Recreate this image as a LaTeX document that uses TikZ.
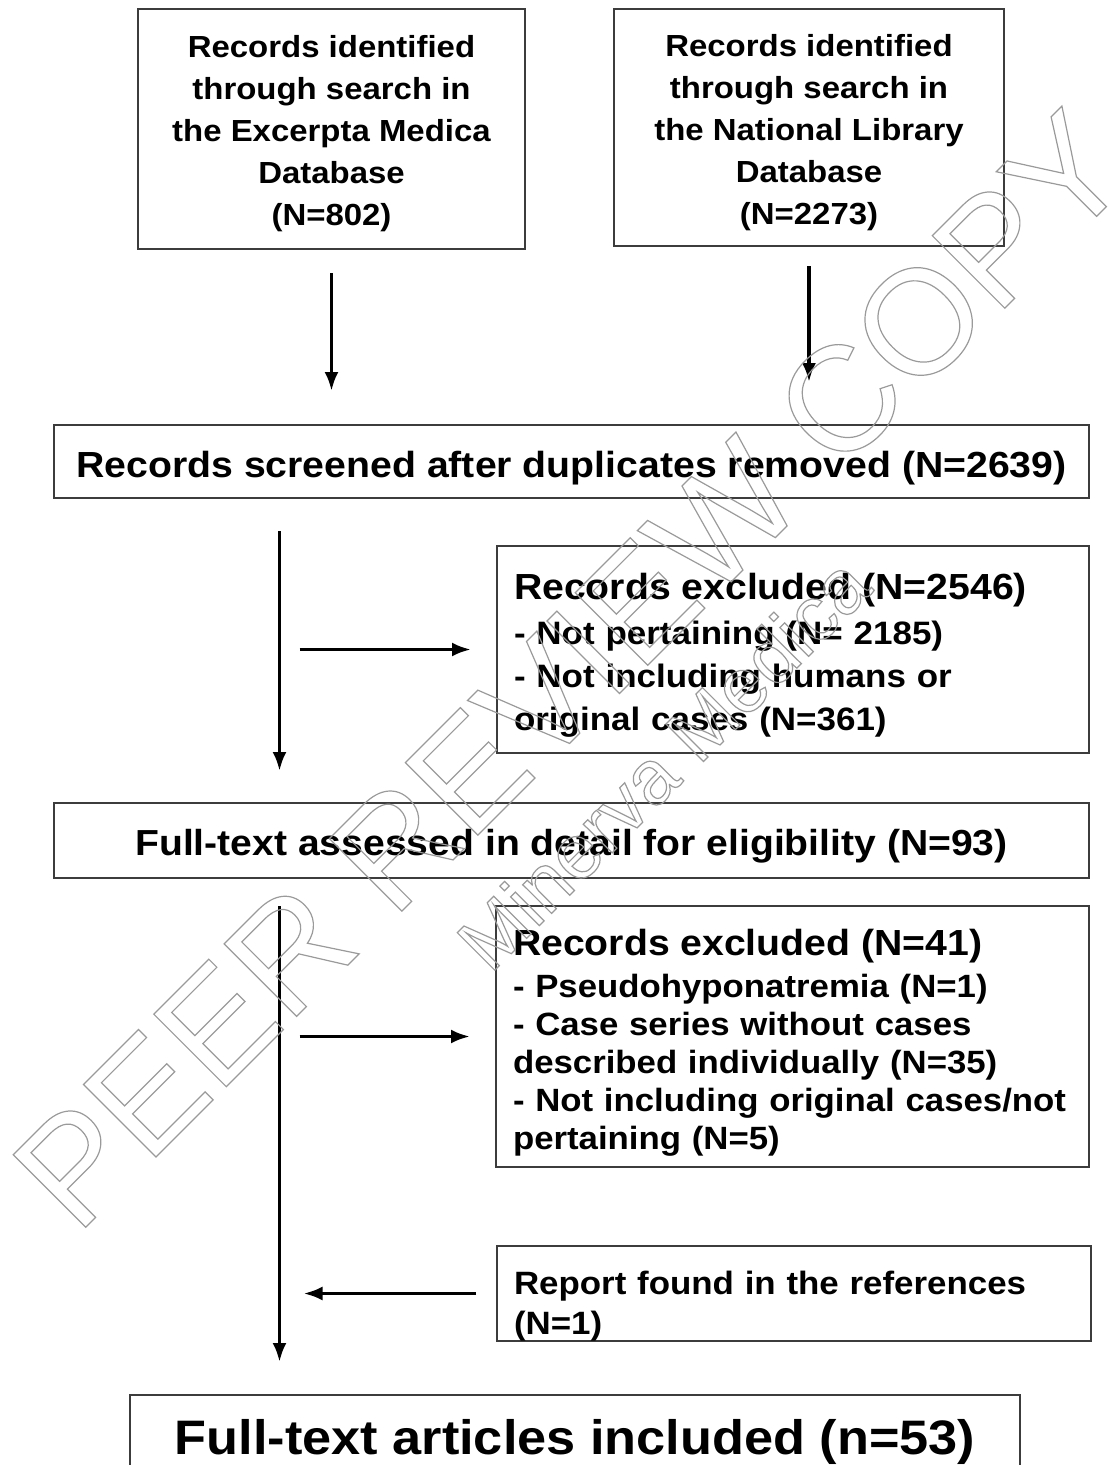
\documentclass[tikz,border=0pt]{standalone}
\usepackage{fontspec}
\setmainfont{Liberation Sans}[FakeStretch=1.08]
\newfontfamily\wmfont{Liberation Sans}
\usetikzlibrary{arrows.meta}
\definecolor{boxgray}{HTML}{3C3C3C}
\definecolor{wmgray}{HTML}{9A9A9A}
% outline-only text for the watermark
\newcommand{\outlined}[1]{\special{pdf:literal direct 1 Tr 1.2 w}#1\special{pdf:literal direct 0 Tr}}
% push the first line of a box down a little
\newcommand{\topgap}[1]{\rule{0pt}{#1}}

\begin{document}
\begin{tikzpicture}[>={Latex[length=19pt,width=14pt]}, x=1pt, y=-1pt,
  box/.style={draw=boxgray, line width=2pt, inner sep=0pt},
  leftbox/.style={box, align=left, inner xsep=17pt},
  flow/.style={->, line width=3.5pt},
  wm/.style={text=wmgray, inner sep=0pt, rotate=45}]

\useasboundingbox (0,0) rectangle (1110,1465);

% Draw the search boxes
\node[box, minimum width=387pt, minimum height=240pt, align=center,
  font=\bfseries\fontsize{30.5}{42}\selectfont] (embase) at (331.5,129)
  {\topgap{32pt}Records identified\\through search in\\the Excerpta Medica\\Database\\(N=802)};
\node[box, minimum width=390pt, minimum height=237pt, align=center,
  font=\bfseries\fontsize{30.5}{42}\selectfont] (nlm) at (809,127.5)
  {\topgap{32pt}Records identified\\through search in\\the National Library\\Database\\(N=2273)};

% Draw the screening boxes
\node[box, minimum width=1035pt, minimum height=73pt, text height=40pt, text depth=8pt,
  font=\bfseries\fontsize{36.3}{43}\selectfont] (screen) at (571.5,461.5)
  {Records screened after duplicates removed (N=2639)};
\node[leftbox, text width=558pt, minimum height=207pt,
  font=\bfseries\fontsize{32.4}{43}\selectfont] (screxcl) at (793,649.5)
  {\topgap{38pt}{\fontsize{36.3}{43}\selectfont Records excluded (N=2546)}\\[2pt]
   - Not pertaining (N= 2185)\\
   - Not including humans or\\
   original cases (N=361)};

% Draw the eligibility boxes
\node[box, minimum width=1035pt, minimum height=75pt, text height=38pt, text depth=8pt,
  font=\bfseries\fontsize{36.2}{43}\selectfont] (fulltext) at (571.5,840.5)
  {Full-text assessed in detail for eligibility (N=93)};
\node[leftbox, text width=559pt, minimum height=261pt,
  font=\bfseries\fontsize{32.2}{38}\selectfont] (fullexcl) at (792.5,1036.5)
  {\topgap{39pt}{\fontsize{36.3}{38}\selectfont Records excluded (N=41)}\\[4pt]
   - Pseudohyponatremia (N=1)\\
   - Case series without cases\\
   described individually (N=35)\\
   - Not including original cases/not\\
   pertaining (N=5)};
\node[leftbox, text width=560pt, minimum height=93pt,
  font=\bfseries\fontsize{32.3}{40}\selectfont] (refs) at (794,1293.5)
  {\topgap{48pt}Report found in the references\\(N=1)};

%% Draw the included box
\node[box, minimum width=890pt, minimum height=84pt, text height=45pt, text depth=11pt,
  font=\bfseries\fontsize{48.4}{56}\selectfont] (incl) at (575,1437)
  {Full-text articles included (n=53)};

%% Draw the arrows
\coordinate (trunk) at (279.5,0);
\draw[flow, shorten <=23pt, shorten >=33pt] (embase.south) -- (embase.south |- screen.north);
\draw[flow, shorten <=19pt, shorten >=42pt] (nlm.south) -- (nlm.south |- screen.north);
\draw[flow, shorten <=32pt, shorten >=31pt] (screen.south -| trunk) -- (fulltext.north -| trunk);
\draw[flow, shorten <=20pt, shorten >=25pt] (screxcl.west -| trunk) -- (screxcl.west);
\draw[flow, shorten <=27pt, shorten >=32pt] (fulltext.south -| trunk) -- (incl.north -| trunk);
\draw[flow, shorten <=20pt, shorten >=25pt] (fullexcl.west -| trunk) -- (fullexcl.west);
\draw[flow, shorten <=20pt, shorten >=24pt] (refs.west) -- (refs.west -| trunk);

%% Add the watermark
\node[wm, anchor=base west, font=\wmfont\fontsize{149}{149}\selectfont] (peer) at (77,1236)
  {\outlined{PEER REVIEW COPY}};
\node[wm, font=\wmfont\fontsize{77}{77}\selectfont] (minerva) at (663,763)
  {\outlined{Minerva Medica}};

\end{tikzpicture}
\end{document}
